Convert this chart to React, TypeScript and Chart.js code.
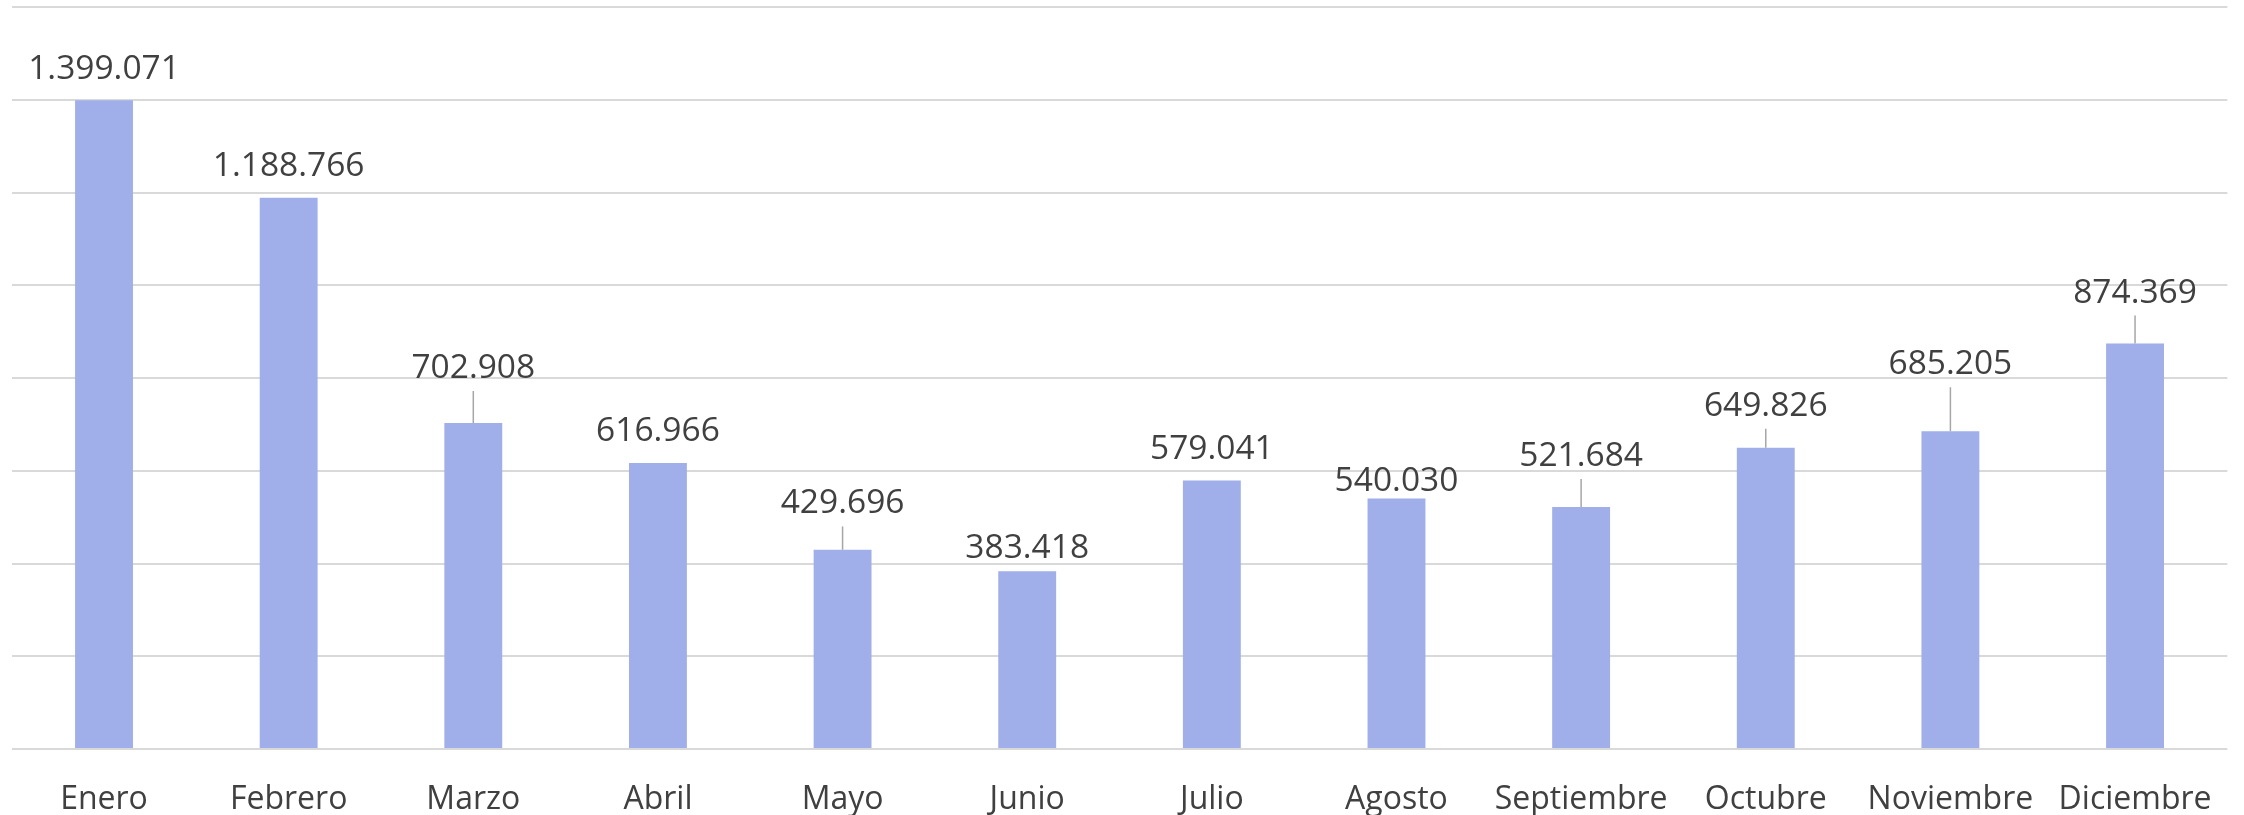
import React, { useEffect, useRef } from "react";
import { Chart, registerables } from "chart.js";

Chart.register(...registerables);

// ---- Data ----
const months = [
  "Enero", "Febrero", "Marzo", "Abril", "Mayo", "Junio",
  "Julio", "Agosto", "Septiembre", "Octubre", "Noviembre", "Diciembre",
];
const sales = [
  1399071, 1188766, 702908, 616966, 429696, 383418,
  579041, 540030, 521684, 649826, 685205, 874369,
];
const yMax = 1600000;
const yStep = 200000;

// ---- Label placement (pixels above bar top, style only) ----
const labelLift = [33, 33.5, 57, 33.7, 48.3, 25, 33.7, 19.5, 53, 44, 69, 53];

const FONT = '"Open Sans", "Noto Sans", sans-serif';
const TEXT_COLOR = "#404040";
const BAR_COLOR = "#A0AEE9";
const GRID_COLOR = "#d9d9d9";

const W = 2244;
const H = 840;
const PLOT_BOTTOM = 749;

function fmt(v: number): string {
  return String(v).replace(/\B(?=(\d{3})+(?!\d))/g, ".");
}

const valueLabelPlugin = {
  id: "valueLabels",
  afterDatasetsDraw(chart: any) {
    const ctx = chart.ctx;
    const meta = chart.getDatasetMeta(0);
    ctx.save();
    meta.data.forEach((bar: any, i: number) => {
      const x = bar.x;
      const top = bar.y;
      const center = top - labelLift[i];
      ctx.font = `33.5px ${FONT}`;
      ctx.fillStyle = TEXT_COLOR;
      ctx.textAlign = "center";
      ctx.textBaseline = "alphabetic";
      ctx.fillText(fmt(sales[i]), x, center + 12);
      if (labelLift[i] > 40) {
        ctx.beginPath();
        ctx.strokeStyle = "#a6a6a6";
        ctx.lineWidth = 1.5;
        ctx.moveTo(x, center + 25);
        ctx.lineTo(x, top);
        ctx.stroke();
      }
    });
    ctx.restore();
  },
};

export default function App() {
  const ref = useRef<HTMLCanvasElement | null>(null);

  useEffect(() => {
    if (!ref.current) return;
    const chart = new Chart(ref.current, {
      type: "bar",
      data: {
        labels: months,
        datasets: [
          {
            data: sales,
            backgroundColor: BAR_COLOR,
            borderWidth: 0,
            categoryPercentage: 1,
            barPercentage: 0.3135,
          },
        ],
      },
      options: {
        responsive: false,
        animation: false,
        devicePixelRatio: 1,
        layout: { padding: { left: 11.7, right: 12, top: 7, bottom: 0 } },
        plugins: {
          legend: { display: false },
          tooltip: { enabled: false },
        },
        scales: {
          x: {
            grid: { display: false, drawTicks: false },
            border: { display: false },
            ticks: {
              padding: 32,
              color: TEXT_COLOR,
              font: { family: FONT, size: 32 },
              maxRotation: 0,
              autoSkip: false,
            },
            afterFit: (s: any) => {
              s.height = H - PLOT_BOTTOM;
            },
          },
          y: {
            min: 0,
            max: yMax,
            ticks: { display: false, stepSize: yStep },
            grid: { color: GRID_COLOR, lineWidth: 2, drawTicks: false },
            border: { display: false },
            afterFit: (s: any) => {
              s.width = 0;
            },
          },
        },
      },
      plugins: [valueLabelPlugin],
    });
    return () => chart.destroy();
  }, []);

  return (
    <div
      style={{
        position: "fixed",
        left: 0,
        top: 0,
        width: W,
        height: 815,
        overflow: "hidden",
        background: "#ffffff",
      }}
    >
      <canvas ref={ref} width={W} height={H} style={{ width: W, height: H, display: "block" }} />
    </div>
  );
}
